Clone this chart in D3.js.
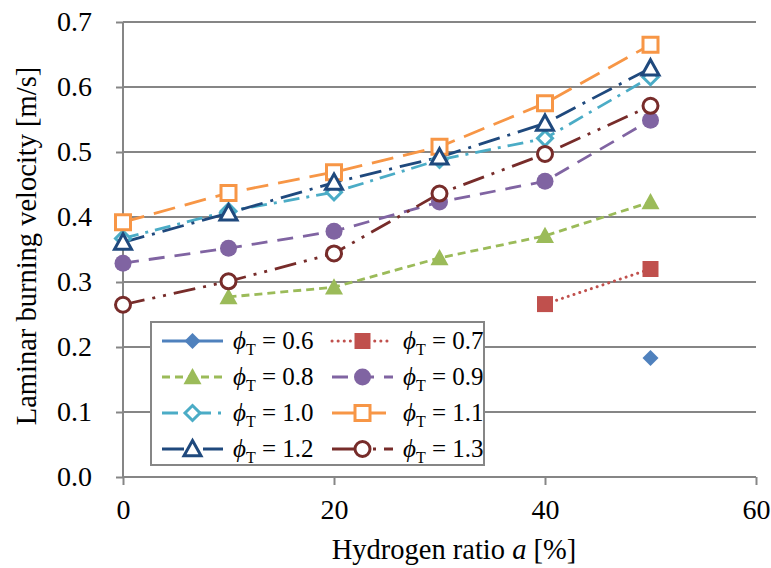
<!DOCTYPE html>
<html>
<head>
<meta charset="utf-8">
<script src="https://cdn.jsdelivr.net/npm/d3@7"></script>
<style>
  html, body { margin: 0; padding: 0; background: #fff; }
  svg { display: block; }
  svg text { font-family: "Liberation Serif", Tinos, "Times New Roman", "DejaVu Serif", serif; fill: #000; }
</style>
</head>
<body>
<svg id="chart" width="771" height="568"></svg>
<script>
// Hydrogen ratio a [%]
const ratios = [0, 10, 20, 30, 40, 50];

// Laminar burning velocity [m/s] per equivalence ratio (null = not measured)
const phi06 = [null, null, null, null, null, 0.183];
const phi07 = [null, null, null, null, 0.266, 0.320];
const phi08 = [null, 0.277, 0.292, 0.337, 0.371, 0.423];
const phi09 = [0.329, 0.352, 0.378, 0.423, 0.455, 0.549];
const phi10 = [0.367, 0.409, 0.438, 0.488, 0.521, 0.615];
const phi11 = [0.392, 0.437, 0.469, 0.508, 0.575, 0.665];
const phi12 = [0.361, 0.406, 0.453, 0.492, 0.544, 0.629];
const phi13 = [0.265, 0.301, 0.344, 0.436, 0.497, 0.571];

const seriesLabels = ["0.6", "0.7", "0.8", "0.9", "1.0", "1.1", "1.2", "1.3"];
const xTicks = [0, 20, 40, 60];
const yTicks = [0, 0.1, 0.2, 0.3, 0.4, 0.5, 0.6, 0.7];

const series = [
  { label: seriesLabels[0], values: phi06, color: "#4F81BD", dash: null,            marker: "diamond",  filled: true },
  { label: seriesLabels[1], values: phi07, color: "#C0504D", dash: "0.1,6",         marker: "square",   filled: true, round: true },
  { label: seriesLabels[2], values: phi08, color: "#9BBB59", dash: "8,5",           marker: "triangle", filled: true },
  { label: seriesLabels[3], values: phi09, color: "#8064A2", dash: "16,10",         marker: "circle",   filled: true },
  { label: seriesLabels[4], values: phi10, color: "#4BACC6", dash: "16,7,3,7",      marker: "diamond",  filled: false },
  { label: seriesLabels[5], values: phi11, color: "#F79646", dash: "22,10",         marker: "square",   filled: false },
  { label: seriesLabels[6], values: phi12, color: "#1F497D", dash: "22,8,3,8",      marker: "triangle", filled: false },
  { label: seriesLabels[7], values: phi13, color: "#772C2A", dash: "22,8,3,8,3,8",  marker: "circle",   filled: false }
];

const FONT = '"Liberation Serif", Tinos, "Times New Roman", "DejaVu Serif", serif';
const svg = d3.select("#chart");
const x = d3.scaleLinear().domain([0, 60]).range([123, 756]);
const y = d3.scaleLinear().domain([0, 0.7]).range([477, 22]);
const gridColor = "#868686";

// Horizontal gridlines
svg.append("g")
  .selectAll("line")
  .data(yTicks.slice(1))
  .join("line")
  .attr("x1", x(0)).attr("x2", x(60))
  .attr("y1", d => y(d)).attr("y2", d => y(d))
  .attr("stroke", gridColor).attr("stroke-width", 2);

// Axes
const xAxis = svg.append("g")
  .attr("transform", `translate(0,${y(0)})`)
  .call(d3.axisBottom(x).tickValues(xTicks).tickSize(8).tickPadding(14).tickFormat(d3.format("d")));
const yAxis = svg.append("g")
  .attr("transform", `translate(${x(0)},0)`)
  .call(d3.axisLeft(y).tickValues(yTicks).tickSize(7).tickPadding(24).tickFormat(d3.format(".1f")));
[xAxis, yAxis].forEach(g => {
  g.attr("font-family", FONT).attr("font-size", 28);
  g.select(".domain").attr("stroke", gridColor).attr("stroke-width", 2);
  g.selectAll(".tick line").attr("stroke", gridColor).attr("stroke-width", 2);
  g.selectAll(".tick text").attr("fill", "#000");
});
xAxis.select(".domain").attr("d", `M${x(0)},0H${x(60)}`);
yAxis.select(".domain").attr("d", `M0,${y(0)}V${y(0.7)}`);

// Axis titles
svg.append("text")
  .attr("x", 454).attr("y", 559)
  .attr("text-anchor", "middle")
  .attr("font-family", FONT).attr("font-size", 28.5)
  .html('Hydrogen ratio <tspan font-style="italic">a</tspan> [%]');
svg.append("text")
  .attr("transform", "translate(36,246) rotate(-90)")
  .attr("text-anchor", "middle")
  .attr("font-family", FONT).attr("font-size", 28.5)
  .text("Laminar burning velocity [m/s]");

// Marker shapes
function markerPath(type, filled) {
  if (type === "diamond") { const h = filled ? 8 : 7.5; return `M0,${-h}L${h},0L0,${h}L${-h},0Z`; }
  if (type === "square") { const h = filled ? 8 : 7.5; return `M${-h},${-h}H${h}V${h}H${-h}Z`; }
  if (type === "triangle") { const h = filled ? 9 : 8.5; return `M0,${-h}L${h},${h * 0.8}L${-h},${h * 0.8}Z`; }
  return null;
}
function drawMarker(g, s, cx, cy) {
  const stroke = s.filled ? "none" : s.color;
  const fill = s.filled ? s.color : "#fff";
  if (s.marker === "circle") {
    g.append("circle").attr("cx", cx).attr("cy", cy)
      .attr("r", s.filled ? 8.5 : 7.5)
      .attr("fill", fill).attr("stroke", stroke).attr("stroke-width", 3);
  } else {
    g.append("path").attr("d", markerPath(s.marker, s.filled))
      .attr("transform", `translate(${cx},${cy})`)
      .attr("fill", fill).attr("stroke", stroke).attr("stroke-width", 3)
      .attr("stroke-linejoin", "miter");
  }
}

// Series lines
const line = d3.line()
  .defined(d => d.v !== null)
  .x(d => x(d.a)).y(d => y(d.v));
const plot = svg.append("g");
series.forEach(s => {
  const pts = ratios.map((a, i) => ({ a, v: s.values[i] }));
  plot.append("path")
    .attr("d", line(pts))
    .attr("fill", "none")
    .attr("stroke", s.color)
    .attr("stroke-width", s.round ? 3 : 2.8)
    .attr("stroke-dasharray", s.dash)
    .attr("stroke-linecap", s.round ? "round" : "butt");
});
series.forEach(s => {
  const g = plot.append("g");
  ratios.forEach((a, i) => {
    if (s.values[i] !== null) drawMarker(g, s, x(a), y(s.values[i]));
  });
});

// Legend
const legend = svg.append("g");
legend.append("rect")
  .attr("x", 151).attr("y", 322).attr("width", 333).attr("height", 143)
  .attr("fill", "#fff").attr("stroke", gridColor).attr("stroke-width", 2);
const rowY = [341, 377, 413, 449];
const colX = [162, 332];
series.forEach((s, i) => {
  const col = i % 2, row = Math.floor(i / 2);
  const x0 = colX[col], cy = rowY[row];
  legend.append("line")
    .attr("x1", x0).attr("x2", x0 + 61).attr("y1", cy).attr("y2", cy)
    .attr("stroke", s.color)
    .attr("stroke-width", s.round ? 3 : 2.8)
    .attr("stroke-dasharray", s.dash)
    .attr("stroke-linecap", s.round ? "round" : "butt");
  drawMarker(legend, s, x0 + 30.5, cy);
  legend.append("text")
    .attr("x", x0 + 71).attr("y", cy + 8)
    .attr("font-family", FONT).attr("font-size", 25)
    .html(`<tspan font-style="italic">ϕ</tspan><tspan font-size="16" dy="6">T</tspan><tspan dy="-6"> = ${s.label}</tspan>`);
});
</script>
</body>
</html>
